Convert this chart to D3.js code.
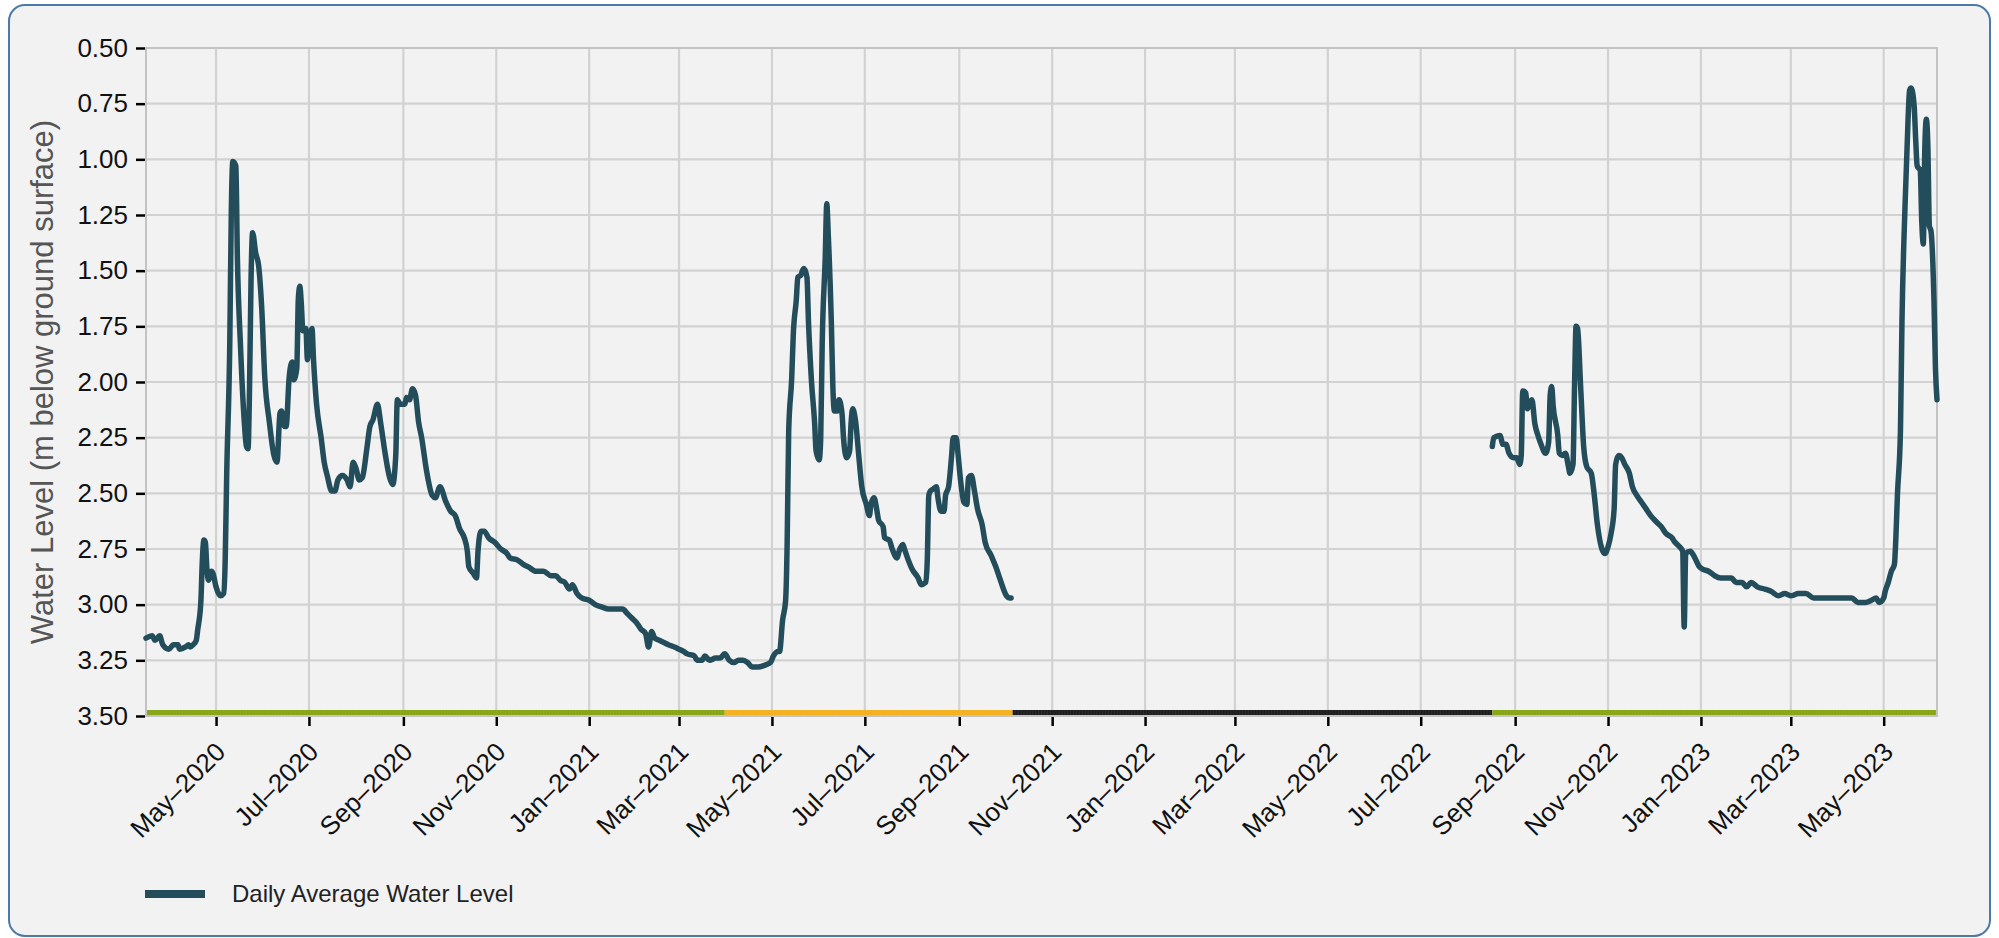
<!DOCTYPE html>
<html lang="en">
<head>
  <meta charset="UTF-8">
  <title>Daily Average Water Level</title>
  <style>
    body { margin: 0; background: #ffffff; }
    svg { display: block; font-family: "Liberation Sans", Arial, sans-serif; }
  </style>
</head>
<body>
<svg id="chart"></svg>
<script src="https://cdn.jsdelivr.net/npm/d3@7/dist/d3.min.js"></script>
<script>
// water level readings, first record period (m below ground surface)
const dates2020 = [
  '2020-03-16','2020-03-20','2020-03-22','2020-03-25','2020-03-27','2020-03-31','2020-04-03','2020-04-06',
  '2020-04-07','2020-04-11','2020-04-13','2020-04-14','2020-04-16','2020-04-18','2020-04-19','2020-04-21',
  '2020-04-22','2020-04-23','2020-04-24','2020-04-25','2020-04-26','2020-04-28','2020-04-29','2020-05-01',
  '2020-05-04','2020-05-06','2020-05-07','2020-05-08','2020-05-10','2020-05-11','2020-05-12','2020-05-14',
  '2020-05-15','2020-05-17','2020-05-19','2020-05-21','2020-05-22','2020-05-23','2020-05-24','2020-05-25',
  '2020-05-27','2020-05-29','2020-05-31','2020-06-02','2020-06-05','2020-06-08','2020-06-10','2020-06-12',
  '2020-06-13','2020-06-15','2020-06-16','2020-06-18','2020-06-20','2020-06-21','2020-06-23','2020-06-24',
  '2020-06-25','2020-06-26','2020-06-27','2020-06-29','2020-06-30','2020-07-01','2020-07-03','2020-07-04',
  '2020-07-06','2020-07-09','2020-07-11','2020-07-13','2020-07-16','2020-07-18','2020-07-20','2020-07-23',
  '2020-07-26','2020-07-28','2020-07-30','2020-08-01','2020-08-03','2020-08-05','2020-08-08','2020-08-10',
  '2020-08-12','2020-08-15','2020-08-17','2020-08-20','2020-08-23','2020-08-25','2020-08-27','2020-08-28',
  '2020-08-30','2020-09-02','2020-09-03','2020-09-05','2020-09-07','2020-09-09','2020-09-11','2020-09-13',
  '2020-09-16','2020-09-20','2020-09-22','2020-09-25','2020-09-29','2020-10-02','2020-10-05','2020-10-08',
  '2020-10-11','2020-10-13','2020-10-14','2020-10-17','2020-10-19','2020-10-20','2020-10-22','2020-10-24',
  '2020-10-27','2020-10-31','2020-11-04','2020-11-08','2020-11-10','2020-11-15','2020-11-19','2020-11-22',
  '2020-11-27','2020-12-02','2020-12-07','2020-12-10','2020-12-13','2020-12-16','2020-12-19','2020-12-21',
  '2020-12-24','2020-12-27','2021-01-01','2021-01-05','2021-01-09','2021-01-14','2021-01-18','2021-01-23',
  '2021-01-26','2021-01-29','2021-02-01','2021-02-04','2021-02-07','2021-02-09','2021-02-11','2021-02-13',
  '2021-02-16','2021-02-19','2021-02-22','2021-02-26','2021-03-01','2021-03-04','2021-03-06','2021-03-11',
  '2021-03-13','2021-03-16','2021-03-18','2021-03-21','2021-03-25','2021-03-28','2021-03-31','2021-04-03',
  '2021-04-06','2021-04-09','2021-04-12','2021-04-15','2021-04-18','2021-04-22','2021-04-27','2021-04-30',
  '2021-05-02','2021-05-05','2021-05-06','2021-05-08','2021-05-10','2021-05-11','2021-05-12','2021-05-14',
  '2021-05-15','2021-05-17','2021-05-18','2021-05-20','2021-05-21','2021-05-22','2021-05-24','2021-05-25',
  '2021-05-27','2021-05-29','2021-05-30','2021-06-01','2021-06-02','2021-06-03','2021-06-05','2021-06-06',
  '2021-06-07','2021-06-09','2021-06-10','2021-06-11','2021-06-13','2021-06-14','2021-06-16','2021-06-17',
  '2021-06-19','2021-06-21','2021-06-22','2021-06-23','2021-06-25','2021-06-27','2021-06-29','2021-07-02',
  '2021-07-04','2021-07-05','2021-07-07','2021-07-09','2021-07-10','2021-07-13','2021-07-14','2021-07-17',
  '2021-07-19','2021-07-22','2021-07-24','2021-07-26','2021-07-27','2021-07-29','2021-08-01','2021-08-05',
  '2021-08-07','2021-08-10','2021-08-11','2021-08-12','2021-08-13','2021-08-15','2021-08-17','2021-08-18',
  '2021-08-20','2021-08-22','2021-08-23','2021-08-25','2021-08-27','2021-08-28','2021-08-30','2021-08-31',
  '2021-09-02','2021-09-04','2021-09-06','2021-09-07','2021-09-09','2021-09-11','2021-09-13','2021-09-16',
  '2021-09-18','2021-09-22','2021-09-25','2021-09-28','2021-10-02','2021-10-04','2021-10-05'
];
const levels2020 = [
  3.15,3.14,3.16,3.14,3.18,3.20,3.18,3.18,
  3.20,3.19,3.18,3.19,3.18,3.16,3.11,2.99,
  2.80,2.71,2.72,2.84,2.89,2.85,2.86,2.92,
  2.96,2.95,2.80,2.41,1.83,1.24,1.01,1.03,
  1.44,1.83,2.12,2.29,2.30,2.02,1.53,1.33,
  1.42,1.48,1.67,1.98,2.18,2.33,2.36,2.14,
  2.13,2.20,2.20,1.98,1.91,1.99,1.94,1.63,
  1.57,1.65,1.77,1.76,1.90,1.83,1.76,1.90,
  2.10,2.25,2.36,2.42,2.49,2.49,2.44,2.42,
  2.44,2.47,2.36,2.39,2.44,2.43,2.30,2.20,
  2.17,2.10,2.18,2.32,2.43,2.46,2.33,2.08,
  2.10,2.10,2.07,2.08,2.03,2.06,2.18,2.25,
  2.39,2.51,2.52,2.47,2.54,2.58,2.60,2.66,
  2.70,2.76,2.83,2.86,2.88,2.76,2.67,2.67,
  2.70,2.72,2.75,2.77,2.79,2.80,2.82,2.83,
  2.85,2.85,2.87,2.87,2.89,2.90,2.93,2.91,
  2.95,2.97,2.98,3.00,3.01,3.02,3.02,3.02,
  3.04,3.06,3.08,3.11,3.13,3.19,3.12,3.15,
  3.16,3.17,3.18,3.19,3.20,3.21,3.22,3.23,
  3.25,3.25,3.23,3.25,3.24,3.24,3.22,3.25,
  3.26,3.25,3.25,3.26,3.28,3.28,3.27,3.26,
  3.23,3.21,3.21,3.07,2.98,2.72,2.22,1.98,
  1.79,1.63,1.53,1.52,1.50,1.49,1.53,1.73,
  2.00,2.18,2.31,2.35,2.26,1.83,1.44,1.20,
  1.34,1.73,2.02,2.13,2.13,2.08,2.14,2.25,
  2.34,2.31,2.18,2.12,2.18,2.33,2.47,2.55,
  2.60,2.55,2.52,2.58,2.62,2.65,2.70,2.71,
  2.75,2.79,2.75,2.73,2.75,2.79,2.84,2.88,
  2.91,2.90,2.80,2.51,2.49,2.48,2.47,2.52,
  2.58,2.58,2.51,2.47,2.33,2.25,2.25,2.31,
  2.45,2.54,2.55,2.43,2.42,2.49,2.57,2.64,
  2.72,2.78,2.83,2.89,2.96,2.97,2.97
];

// second record period, after the gap
const dates2022 = [
  '2022-08-17','2022-08-18','2022-08-22','2022-08-24','2022-08-26','2022-08-28','2022-08-31','2022-09-02',
  '2022-09-04','2022-09-05','2022-09-06','2022-09-08','2022-09-09','2022-09-12','2022-09-14','2022-09-16',
  '2022-09-18','2022-09-21','2022-09-23','2022-09-24','2022-09-25','2022-09-26','2022-09-29','2022-09-30',
  '2022-10-02','2022-10-04','2022-10-06','2022-10-07','2022-10-09','2022-10-10','2022-10-11','2022-10-12',
  '2022-10-14','2022-10-16','2022-10-18','2022-10-21','2022-10-23','2022-10-25','2022-10-28','2022-10-30',
  '2022-11-01','2022-11-03','2022-11-05','2022-11-06','2022-11-08','2022-11-10','2022-11-12','2022-11-15',
  '2022-11-17','2022-11-20','2022-11-23','2022-11-26','2022-11-29','2022-12-03','2022-12-06','2022-12-09',
  '2022-12-13','2022-12-15','2022-12-18','2022-12-20','2022-12-21','2022-12-22','2022-12-25','2022-12-28',
  '2022-12-31','2023-01-02','2023-01-06','2023-01-10','2023-01-14','2023-01-21','2023-01-24','2023-01-28',
  '2023-01-31','2023-02-03','2023-02-07','2023-02-12','2023-02-16','2023-02-21','2023-02-25','2023-03-01',
  '2023-03-06','2023-03-11','2023-03-16','2023-03-21','2023-03-27','2023-04-01','2023-04-05','2023-04-10',
  '2023-04-14','2023-04-19','2023-04-23','2023-04-26','2023-04-28','2023-05-01','2023-05-02','2023-05-04',
  '2023-05-06','2023-05-08','2023-05-09','2023-05-10','2023-05-12','2023-05-13','2023-05-15','2023-05-17',
  '2023-05-18','2023-05-19','2023-05-21','2023-05-22','2023-05-23','2023-05-25','2023-05-26','2023-05-27',
  '2023-05-28','2023-05-29','2023-05-30','2023-05-31','2023-06-01','2023-06-03','2023-06-04','2023-06-05'
];
const levels2022 = [
  2.29,2.25,2.24,2.28,2.28,2.32,2.34,2.34,
  2.37,2.33,2.04,2.05,2.12,2.08,2.19,2.24,
  2.28,2.32,2.27,2.06,2.02,2.11,2.24,2.32,
  2.33,2.32,2.38,2.41,2.37,2.02,1.75,1.76,
  2.02,2.29,2.38,2.41,2.51,2.64,2.75,2.77,
  2.74,2.68,2.57,2.37,2.33,2.34,2.37,2.41,
  2.47,2.51,2.54,2.57,2.60,2.63,2.65,2.68,
  2.70,2.72,2.74,2.76,3.10,2.77,2.76,2.79,
  2.83,2.84,2.85,2.87,2.88,2.88,2.90,2.90,
  2.92,2.90,2.92,2.93,2.94,2.96,2.95,2.96,
  2.95,2.95,2.97,2.97,2.97,2.97,2.97,2.97,
  2.99,2.99,2.98,2.97,2.99,2.97,2.94,2.90,
  2.85,2.82,2.70,2.51,2.22,1.73,1.21,0.82,
  0.69,0.68,0.76,0.91,1.03,1.05,1.28,1.38,
  0.95,0.82,0.94,1.30,1.32,1.63,1.94,2.08
];

// record status along the bottom strip
const statusStart = ['2020-03-16', '2021-03-31', '2021-10-06', '2022-08-17'];
const statusEnd   = ['2021-03-31', '2021-10-06', '2022-08-17', '2023-06-06'];
const statusType  = ['approved', 'provisional', 'missing', 'approved'];

const yTicks = [0.5, 0.75, 1.0, 1.25, 1.5, 1.75, 2.0, 2.25, 2.5, 2.75, 3.0, 3.25, 3.5];

const width = 1999;
const height = 938;
const plot = { left: 146, right: 1937, top: 48, bottom: 716 };
const lineColor = '#244d5c';

const parse = d3.timeParse('%Y-%m-%d');
const series = [
  dates2020.map((d, i) => ({ date: parse(d), value: levels2020[i] })),
  dates2022.map((d, i) => ({ date: parse(d), value: levels2022[i] }))
];

const svg = d3.select('#chart')
  .attr('width', width)
  .attr('height', height);

// card
svg.append('rect')
  .attr('x', 9).attr('y', 5)
  .attr('width', 1981).attr('height', 931)
  .attr('rx', 16)
  .attr('fill', '#f2f2f2')
  .attr('stroke', '#4d79a6')
  .attr('stroke-width', 2);

const x = d3.scaleTime()
  .domain([parse(statusStart[0]), parse('2023-06-05')])
  .range([plot.left, plot.right]);

const y = d3.scaleLinear()
  .domain([0.5, 3.5])
  .range([plot.top, plot.bottom]);

const xTicks = x.ticks(d3.timeMonth.every(2));

// grid
const grid = svg.append('g');
grid.selectAll('.vgrid')
  .data(xTicks)
  .enter()
  .append('line')
  .attr('x1', d => x(d)).attr('x2', d => x(d))
  .attr('y1', plot.top).attr('y2', plot.bottom)
  .attr('stroke', '#d2d2d2')
  .attr('stroke-width', 2.2);
grid.selectAll('.hgrid')
  .data(yTicks)
  .enter()
  .append('line')
  .attr('x1', plot.left).attr('x2', plot.right)
  .attr('y1', d => y(d)).attr('y2', d => y(d))
  .attr('stroke', '#d2d2d2')
  .attr('stroke-width', 2.2);

// status strip: solid band per period, with faint day stripes on top
const statusColor = d3.scaleOrdinal()
  .domain(['approved', 'provisional', 'missing'])
  .range(['#84a10b', '#f4ae15', '#161616']);

const stripH = 6;
const strip = svg.append('g');
strip.selectAll('.band')
  .data(statusStart.map((s, i) => ({ start: parse(s), end: parse(statusEnd[i]), type: statusType[i] })))
  .enter()
  .append('rect')
  .attr('x', d => x(d.start))
  .attr('y', plot.bottom - stripH)
  .attr('width', d => Math.min(plot.right, x(d.end)) - x(d.start))
  .attr('height', stripH)
  .attr('fill', d => statusColor(d.type));

const days = d3.timeDay.range(parse(statusStart[0]), parse(statusEnd[statusEnd.length - 1]));
strip.selectAll('.day')
  .data(days)
  .enter()
  .append('line')
  .attr('x1', d => x(d)).attr('x2', d => x(d))
  .attr('y1', plot.bottom - stripH).attr('y2', plot.bottom)
  .attr('stroke', '#ffffff')
  .attr('stroke-opacity', 0.18)
  .attr('stroke-width', 0.5);

// plot frame
svg.append('rect')
  .attr('x', plot.left).attr('y', plot.top)
  .attr('width', plot.right - plot.left)
  .attr('height', plot.bottom - plot.top)
  .attr('fill', 'none')
  .attr('stroke', '#c3c3c3')
  .attr('stroke-width', 2);

// water level line
const line = d3.line()
  .x(d => x(d.date))
  .y(d => y(d.value))
  .curve(d3.curveMonotoneX);

svg.append('g')
  .selectAll('path')
  .data(series)
  .enter()
  .append('path')
  .attr('d', line)
  .attr('fill', 'none')
  .attr('stroke', lineColor)
  .attr('stroke-width', 5.5)
  .attr('stroke-linejoin', 'round')
  .attr('stroke-linecap', 'round');

// y axis
const yAxis = svg.append('g')
  .attr('transform', `translate(${plot.left - 1},0)`)
  .call(d3.axisLeft(y).tickValues(yTicks).tickFormat(d3.format('.2f')).tickSize(9).tickPadding(8));
yAxis.select('.domain').remove();
yAxis.selectAll('.tick line').attr('stroke', '#000').attr('stroke-width', 2.5);
yAxis.selectAll('.tick text')
  .attr('font-size', 26)
  .attr('fill', '#111')
  .attr('font-family', '"Liberation Sans", Arial, sans-serif');

// x axis
const xAxis = svg.append('g')
  .attr('transform', `translate(0,${plot.bottom + 1})`)
  .call(d3.axisBottom(x).tickValues(xTicks).tickFormat(d3.timeFormat('%b–%Y')).tickSize(9));
xAxis.select('.domain').remove();
xAxis.selectAll('.tick line').attr('stroke', '#000').attr('stroke-width', 2.5);
xAxis.selectAll('.tick text')
  .attr('font-size', 26)
  .attr('fill', '#111')
  .attr('font-family', '"Liberation Sans", Arial, sans-serif')
  .attr('text-anchor', 'end')
  .attr('x', 0).attr('y', 0)
  .attr('dy', '0.35em')
  .attr('transform', 'translate(4,30) rotate(-45)');

// y axis title
svg.append('text')
  .attr('transform', `translate(53,${(plot.top + plot.bottom) / 2}) rotate(-90)`)
  .attr('text-anchor', 'middle')
  .attr('font-size', 31)
  .attr('fill', '#555')
  .text('Water Level (m below ground surface)');

// legend
const legend = svg.append('g').attr('transform', 'translate(145,894)');
legend.append('line')
  .attr('x1', 0).attr('x2', 60)
  .attr('stroke', lineColor)
  .attr('stroke-width', 8);
legend.append('text')
  .attr('x', 87)
  .attr('dy', '0.35em')
  .attr('font-size', 24)
  .attr('fill', '#222')
  .text('Daily Average Water Level');
</script>
</body>
</html>
